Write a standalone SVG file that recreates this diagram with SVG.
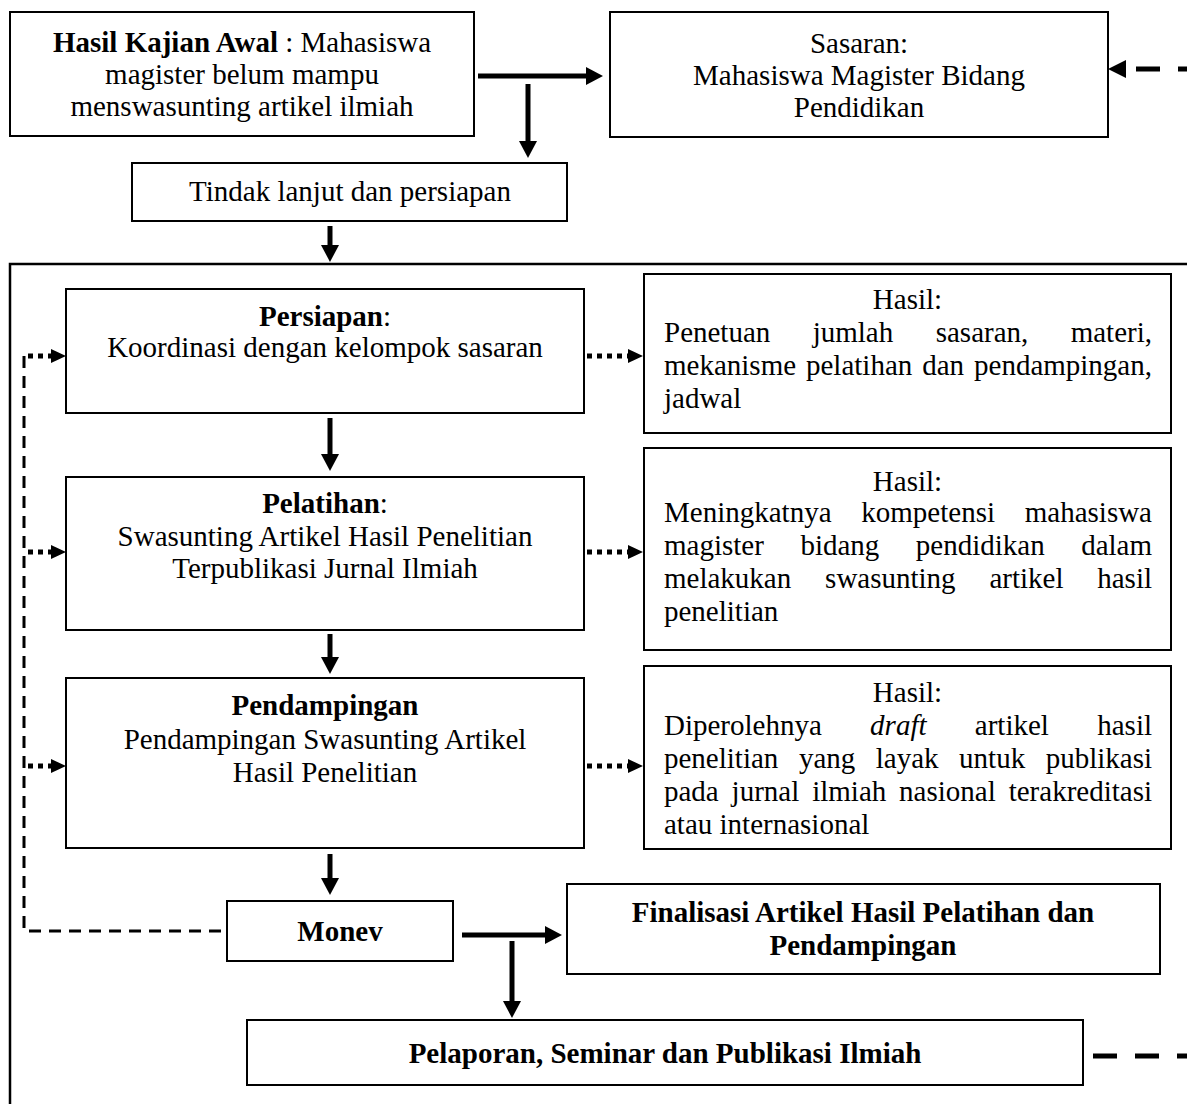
<svg xmlns="http://www.w3.org/2000/svg" width="1187" height="1104" viewBox="0 0 1187 1104">
<style>
.box{fill:#fff;stroke:#000;stroke-width:2}
.t{font-family:"Liberation Serif","Times New Roman",serif;font-size:29px;fill:#000}
.c{text-anchor:middle}
.e{text-anchor:end}
.b{font-weight:bold}
.i{font-style:italic}
.solid{stroke:#000;stroke-width:5;fill:none}
.dot{stroke:#000;stroke-width:5;fill:none;stroke-dasharray:5 5}
.dash{stroke:#000;stroke-width:5;fill:none;stroke-dasharray:24 18}
.dashthin{stroke:#000;stroke-width:3;fill:none;stroke-dasharray:12 8}
</style>
<defs>
<marker id="ah" viewBox="0 0 17 18" refX="5" refY="9" markerWidth="17" markerHeight="18" markerUnits="userSpaceOnUse" orient="auto"><path d="M0,0 L17,9 L0,18 z" fill="#000"/></marker>
<marker id="ah2" viewBox="0 0 15 14" refX="2" refY="7" markerWidth="15" markerHeight="14" markerUnits="userSpaceOnUse" orient="auto"><path d="M0,0 L15,7 L0,14 z" fill="#000"/></marker>
</defs>
<rect width="1187" height="1104" fill="#fff"/>
<path d="M10,1110 V264 H1195" fill="none" stroke="#000" stroke-width="2.5"/>

<g id="connectors">
<line class="solid" x1="478" y1="76" x2="591" y2="76" marker-end="url(#ah)"/>
<line class="solid" x1="528" y1="84" x2="528" y2="146" marker-end="url(#ah)"/>
<line class="solid" x1="330" y1="226" x2="330" y2="250" marker-end="url(#ah)"/>
<line class="solid" x1="330" y1="418" x2="330" y2="459" marker-end="url(#ah)"/>
<line class="solid" x1="330" y1="634" x2="330" y2="662" marker-end="url(#ah)"/>
<line class="solid" x1="330" y1="854" x2="330" y2="883" marker-end="url(#ah)"/>
<line class="solid" x1="462" y1="935" x2="550" y2="935" marker-end="url(#ah)"/>
<line class="solid" x1="512" y1="941" x2="512" y2="1006" marker-end="url(#ah)"/>
<line class="dot" x1="587" y1="356" x2="630" y2="356" marker-end="url(#ah2)"/>
<line class="dot" x1="587" y1="552" x2="630" y2="552" marker-end="url(#ah2)"/>
<line class="dot" x1="587" y1="766" x2="630" y2="766" marker-end="url(#ah2)"/>
<line class="dot" x1="28" y1="356" x2="53" y2="356" marker-end="url(#ah2)"/>
<line class="dot" x1="28" y1="552" x2="53" y2="552" marker-end="url(#ah2)"/>
<line class="dot" x1="28" y1="766" x2="53" y2="766" marker-end="url(#ah2)"/>
<path class="dashthin" d="M24,356 V931 H227"/>
<line class="dash" x1="1136" y1="69" x2="1205" y2="69"/>
<path d="M1108,69 L1126,60 L1126,78 z" fill="#000"/>
<line class="dash" x1="1093" y1="1056" x2="1205" y2="1056"/>
</g>

<g id="kajian">
<rect class="box" x="10" y="12" width="464" height="124"/>
<text class="t c" x="242" y="52"><tspan class="b">Hasil Kajian Awal</tspan> : Mahasiswa</text>
<text class="t c" x="242" y="84">magister belum mampu</text>
<text class="t c" x="242" y="116">menswasunting artikel ilmiah</text>
</g>

<g id="sasaran">
<rect class="box" x="610" y="12" width="498" height="125"/>
<text class="t c" x="859" y="53">Sasaran:</text>
<text class="t c" x="859" y="85">Mahasiswa Magister Bidang</text>
<text class="t c" x="859" y="117">Pendidikan</text>
</g>

<g id="tindak">
<rect class="box" x="132" y="163" width="435" height="58"/>
<text class="t c" x="350" y="201">Tindak lanjut dan persiapan</text>
</g>

<g id="persiapan">
<rect class="box" x="66" y="289" width="518" height="124"/>
<text class="t c" x="325" y="326"><tspan class="b">Persiapan</tspan>:</text>
<text class="t c" x="325" y="357">Koordinasi dengan kelompok sasaran</text>
</g>

<g id="hasil1">
<rect class="box" x="644" y="274" width="527" height="159"/>
<text class="t c" x="907.5" y="309">Hasil:</text>
<text class="t" x="664" y="342">Penetuan</text>
<text class="t" x="812.7" y="342">jumlah</text>
<text class="t" x="935.7" y="342">sasaran,</text>
<text class="t e" x="1152" y="342">materi,</text>
<text class="t" x="664" y="375">mekanisme</text>
<text class="t" x="806" y="375">pelatihan</text>
<text class="t" x="922.2" y="375">dan</text>
<text class="t e" x="1152" y="375">pendampingan,</text>
<text class="t" x="664" y="408">jadwal</text>
</g>

<g id="pelatihan">
<rect class="box" x="66" y="477" width="518" height="153"/>
<text class="t c" x="325" y="513"><tspan class="b">Pelatihan</tspan>:</text>
<text class="t c" x="325" y="546">Swasunting Artikel Hasil Penelitian</text>
<text class="t c" x="325" y="578">Terpublikasi Jurnal Ilmiah</text>
</g>

<g id="hasil2">
<rect class="box" x="644" y="448" width="527" height="202"/>
<text class="t c" x="907.5" y="491">Hasil:</text>
<text class="t" x="664" y="522">Meningkatnya</text>
<text class="t" x="861.3" y="522">kompetensi</text>
<text class="t e" x="1152" y="522">mahasiswa</text>
<text class="t" x="664" y="555">magister</text>
<text class="t" x="800.4" y="555">bidang</text>
<text class="t" x="915.8" y="555">pendidikan</text>
<text class="t e" x="1152" y="555">dalam</text>
<text class="t" x="664" y="588">melakukan</text>
<text class="t" x="825.1" y="588">swasunting</text>
<text class="t" x="989.4" y="588">artikel</text>
<text class="t e" x="1152" y="588">hasil</text>
<text class="t" x="664" y="621">penelitian</text>
</g>

<g id="pendampingan">
<rect class="box" x="66" y="678" width="518" height="170"/>
<text class="t c b" x="325" y="715">Pendampingan</text>
<text class="t c" x="325" y="749">Pendampingan Swasunting Artikel</text>
<text class="t c" x="325" y="782">Hasil Penelitian</text>
</g>

<g id="hasil3">
<rect class="box" x="644" y="666" width="527" height="183"/>
<text class="t c" x="907.5" y="702">Hasil:</text>
<text class="t" x="664" y="735">Diperolehnya</text>
<text class="t i" x="870.1" y="735">draft</text>
<text class="t" x="974.8" y="735">artikel</text>
<text class="t e" x="1152" y="735">hasil</text>
<text class="t" x="664" y="768">penelitian</text>
<text class="t" x="798.9" y="768">yang</text>
<text class="t" x="875.8" y="768">layak</text>
<text class="t" x="959.1" y="768">untuk</text>
<text class="t e" x="1152" y="768">publikasi</text>
<text class="t" x="664" y="801">pada</text>
<text class="t" x="731.6" y="801">jurnal</text>
<text class="t" x="812.2" y="801">ilmiah</text>
<text class="t" x="899.1" y="801">nasional</text>
<text class="t e" x="1152" y="801">terakreditasi</text>
<text class="t" x="664" y="834">atau internasional</text>
</g>

<g id="monev">
<rect class="box" x="227" y="901" width="226" height="60"/>
<text class="t c b" x="340" y="941">Monev</text>
</g>

<g id="finalisasi">
<rect class="box" x="567" y="884" width="593" height="90"/>
<text class="t c b" x="863" y="922">Finalisasi Artikel Hasil Pelatihan dan</text>
<text class="t c b" x="863" y="955">Pendampingan</text>
</g>

<g id="pelaporan">
<rect class="box" x="247" y="1020" width="836" height="65"/>
<text class="t c b" x="665" y="1063">Pelaporan, Seminar dan Publikasi Ilmiah</text>
</g>
</svg>
